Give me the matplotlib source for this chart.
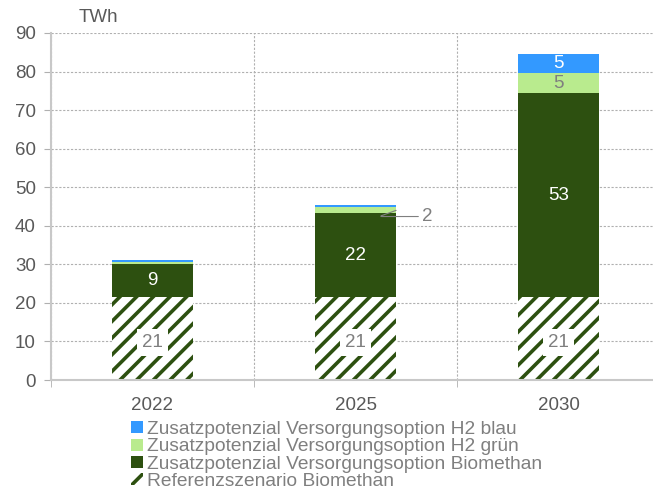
import matplotlib.pyplot as plt
import matplotlib as mpl
import numpy as np

years = ["2022", "2025", "2030"]
ref_bio = [21.4, 21.4, 21.4]
add_bio = [8.8, 21.8, 53.0]
h2_gruen = [0.5, 1.6, 5.2]
h2_blau = [0.3, 0.5, 5.0]

ref_labels = ["21", "21", "21"]
bio_labels = ["9", "22", "53"]

c_blau = "#3399ff"
c_gruen = "#b9eb8e"
c_dark = "#2d5010"
c_text = "#7f7f7f"
c_grid = "#b0b0b0"

mpl.rcParams["font.family"] = ["Liberation Sans", "DejaVu Sans"]
mpl.rcParams["hatch.color"] = c_dark
mpl.rcParams["hatch.linewidth"] = 2.6

fig = plt.figure(figsize=(6.53, 4.94), dpi=100)
ax = fig.add_axes([51 / 653, 114 / 494, 602 / 653, 347 / 494])

x = np.arange(len(years))
w = 0.4

b_ref = ax.bar(x, ref_bio, w, color="white", edgecolor=c_dark, hatch="//",
               linewidth=0, label="Referenzszenario Biomethan")
bottom = np.array(ref_bio)
b_bio = ax.bar(x, add_bio, w, bottom=bottom, color=c_dark,
               label="Zusatzpotenzial Versorgungsoption Biomethan")
bottom = bottom + np.array(add_bio)
b_gr = ax.bar(x, h2_gruen, w, bottom=bottom, color=c_gruen,
              label="Zusatzpotenzial Versorgungsoption H2 grün")
bottom = bottom + np.array(h2_gruen)
b_bl = ax.bar(x, h2_blau, w, bottom=bottom, color=c_blau,
              label="Zusatzpotenzial Versorgungsoption H2 blau")

# labels
for i in range(len(years)):
    ax.text(x[i], ref_bio[i] / 2 - 1, ref_labels[i], ha="center", va="center",
            fontsize=13.5, color=c_text,
            bbox=dict(facecolor="white", edgecolor="none", pad=3.5))
    ax.text(x[i], ref_bio[i] + add_bio[i] / 2, bio_labels[i], ha="center",
            va="center", fontsize=13.5, color="white")

top_2030 = ref_bio[2] + add_bio[2]
ax.text(x[2], top_2030 + h2_gruen[2] / 2, "5", ha="center", va="center",
        fontsize=13.5, color=c_text)
ax.text(x[2], top_2030 + h2_gruen[2] + h2_blau[2] / 2, "5", ha="center",
        va="center", fontsize=13.5, color="white")

# leader label for 2025 H2 gruen
y25 = ref_bio[1] + add_bio[1] + h2_gruen[1] / 2
ax.annotate("2", xy=(x[1] + w / 2, y25), xytext=(x[1] + w / 2 + 0.13, y25 - 1.6),
            fontsize=13.5, color=c_text, va="center",
            arrowprops=dict(arrowstyle="-", color=c_text, lw=0.8,
                            connectionstyle="angle,angleA=0,angleB=20,rad=3",
                            shrinkA=1, shrinkB=0))

ax.set_xlim(-0.5, -0.5 + 602 / 203)
ax.set_ylim(0, 90)
ax.set_yticks(np.arange(0, 91, 10))
ax.set_xticks(x)
ax.set_xticklabels(years)
ax.set_xticks([-0.5, 0.5, 1.5], minor=True)
ax.tick_params(axis="x", which="major", length=0, pad=12, labelsize=13.5,
               labelcolor="#595959")
ax.tick_params(axis="x", which="minor", length=5, color=c_grid)
ax.tick_params(axis="y", length=5, color=c_grid, labelsize=13.5,
               labelcolor="#595959", pad=6)
ax.grid(axis="y", which="major", linestyle=(0, (2, 1.5)), color=c_grid,
        linewidth=0.8)
ax.grid(axis="x", which="minor", linestyle=(0, (2, 1.5)), color=c_grid,
        linewidth=0.8)
ax.set_axisbelow(True)
for s in ["top", "right"]:
    ax.spines[s].set_visible(False)
for s in ["left", "bottom"]:
    ax.spines[s].set_color("#c8c8c8")
    ax.spines[s].set_linewidth(1.5)

fig.text(98 / 653, 1 - 18 / 494, "TWh", fontsize=13.5, color="#595959",
         va="center", ha="center")

handles = [b_bl, b_gr, b_bio, b_ref]
leg = fig.legend(handles, [h.get_label() for h in handles],
                 loc="upper left", bbox_to_anchor=(131 / 653, 1 - 421 / 494),
                 frameon=False, fontsize=13.8, handlelength=0.6,
                 handleheight=0.6, handletextpad=0.25, labelspacing=0.02,
                 borderaxespad=0, borderpad=0)
for t in leg.get_texts():
    t.set_color(c_text)

fig.savefig("out.png", dpi=100)
